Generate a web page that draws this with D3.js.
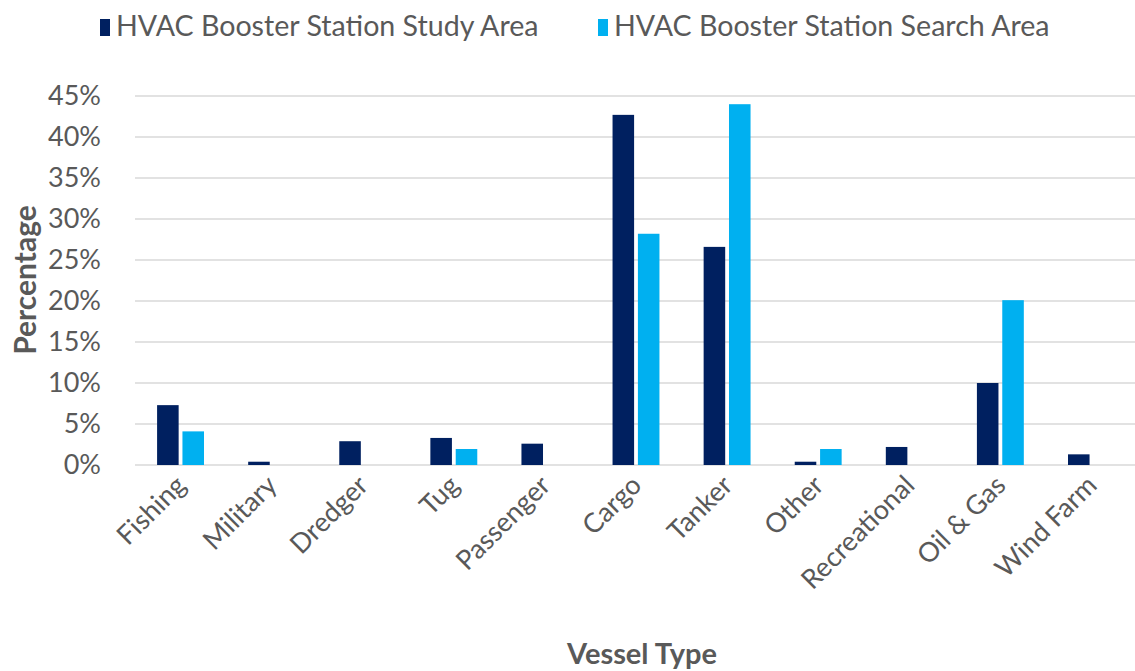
<!DOCTYPE html>
<html><head><meta charset="utf-8">
<script src="https://cdn.jsdelivr.net/npm/d3@7"></script>
<style>
html,body{margin:0;padding:0;background:#fff;}
svg text{font-family:Lato,"Liberation Sans",sans-serif;}
</style></head>
<body>
<svg id="chart" width="1135" height="671"></svg>
<script>
const categories = ["Fishing","Military","Dredger","Tug","Passenger","Cargo","Tanker","Other","Recreational","Oil & Gas","Wind Farm"];
const seriesNames = ["HVAC Booster Station Study Area","HVAC Booster Station Search Area"];
const studyArea = [7.3, 0.4, 2.9, 3.3, 2.6, 42.7, 26.6, 0.4, 2.2, 10.0, 1.3];
const searchArea = [4.1, 0, 0, 1.95, 0, 28.2, 44.0, 1.95, 0, 20.1, 0];
const yTicks = [0,5,10,15,20,25,30,35,40,45];
const colors = ["#002060","#00B0F0"];

const svg = d3.select("#chart");
const m = {left:135, right:1137, top:96, bottom:465};
const x0 = d3.scaleBand().domain(categories).range([m.left, m.right]).paddingInner(0.485).paddingOuter(0.2425);
const x1 = d3.scaleBand().domain([0,1]).range([0, x0.bandwidth()]).paddingInner(0.15);
const y = d3.scaleLinear().domain([0,45]).range([m.bottom, m.top]);

// gridlines
svg.append("g").selectAll("line").data(yTicks).join("line")
  .attr("x1", m.left).attr("x2", 1135)
  .attr("y1", d=>y(d)).attr("y2", d=>y(d))
  .attr("stroke","#d9d9d9").attr("stroke-width",1.5);

// y axis labels
const yAxis = d3.axisLeft(y).tickValues(yTicks).tickFormat(d=>d+"%").tickSize(0).tickPadding(34);
const ya = svg.append("g").attr("transform",`translate(${m.left},0)`).call(yAxis);
ya.select(".domain").remove();
ya.selectAll("text").attr("font-size",27).attr("fill","#595959").style("font-family","Lato");

// bars
const data = [studyArea, searchArea];
categories.forEach((c,i)=>{
  data.forEach((s,j)=>{
    const v = s[i];
    if (v<=0) return;
    svg.append("rect")
      .attr("x", x0(c)+x1(j)).attr("width", x1.bandwidth())
      .attr("y", y(v)).attr("height", y(0)-y(v))
      .attr("fill", colors[j]);
  });
});

// x axis labels
const xAxis = d3.axisBottom(x0).tickSize(0).tickPadding(0);
const xa = svg.append("g").attr("transform",`translate(0,${m.bottom})`).call(xAxis);
xa.select(".domain").remove();
xa.selectAll("text")
  .attr("font-size",27).attr("fill","#595959").style("font-family","Lato")
  .attr("text-anchor","end").attr("dy",null).attr("y",0)
  .attr("transform","translate(7,22) rotate(-45)");

// axis titles
svg.append("text").attr("transform","translate(36,280) rotate(-90)")
  .attr("text-anchor","middle").attr("font-size",30).attr("font-weight","bold").attr("fill","#595959")
  .text("Percentage");
svg.append("text").attr("x",642).attr("y",664)
  .attr("text-anchor","middle").attr("font-size",29).attr("font-weight","bold").attr("fill","#595959")
  .text("Vessel Type");

// legend
const legX = [100, 598];
seriesNames.forEach((n,j)=>{
  svg.append("rect").attr("x",legX[j]).attr("y",19).attr("width",10).attr("height",17).attr("fill",colors[j]);
  svg.append("text").attr("x",legX[j]+16).attr("y",36).attr("font-size",28.6).attr("fill","#595959").text(n);
});
</script>
</body></html>
